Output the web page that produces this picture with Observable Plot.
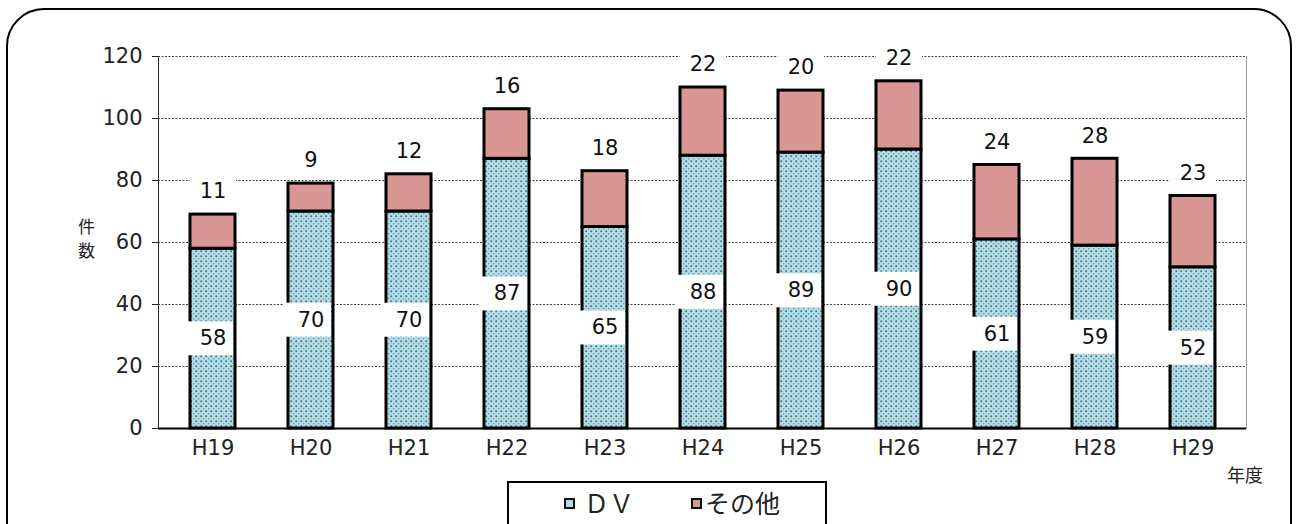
<!DOCTYPE html>
<html><head><meta charset="utf-8">
<script src="https://cdn.jsdelivr.net/npm/d3@7"></script>
<script src="https://cdn.jsdelivr.net/npm/@observablehq/plot@0.6"></script>
<style>
html,body{margin:0;padding:0;background:#fff;width:1300px;height:524px;overflow:hidden;font-family:"DejaVu Sans","Noto Sans CJK JP",sans-serif;}
#wrap{position:relative;width:1300px;height:524px;}
#border{position:absolute;left:6px;top:8px;width:1282px;height:600px;border:2px solid #000;border-radius:38px;}
#chart{position:absolute;left:0;top:0;}
.lab{position:absolute;color:#222;font-family:"Noto Sans CJK JP","DejaVu Sans",sans-serif;line-height:1;}
#legend{position:absolute;left:507px;top:481px;width:316px;height:80px;border:2px solid #000;background:#fff;}
.sw{position:absolute;width:7px;height:7px;border:2px solid #111;}
</style></head>
<body><div id="wrap"><div id="border"></div><div id="chart"></div>
<div class="lab" style="left:78px;top:217px;font-size:17px;">件</div>
<div class="lab" style="left:78px;top:241px;font-size:17px;">数</div>
<div class="lab" style="left:1227px;top:465px;font-size:18px;">年度</div>
<div id="legend">
  <div class="sw" style="left:55px;top:15px;background:#b4dce6;"></div>
  <div class="lab" style="left:75px;top:7px;font-size:25px;">ＤＶ</div>
  <div class="sw" style="left:182px;top:15px;background:#d99694;"></div>
  <div class="lab" style="left:196px;top:7px;font-size:25px;">その他</div>
</div>
</div>
<script>
const years = ["H19","H20","H21","H22","H23","H24","H25","H26","H27","H28","H29"];
const dv    = [58,70,70,87,65,88,89,90,61,59,52];
const other = [11,9,12,16,18,22,20,22,24,28,23];
const yTicks = [0,20,40,60,80,100,120];

const rows = years.map((y,i)=>({year:y, dv:dv[i], other:other[i], total:dv[i]+other[i]}));

const chart = Plot.plot({
  width:1300, height:524,
  marginLeft:158, marginRight:54, marginTop:56, marginBottom:96,
  style:{fontFamily:'"DejaVu Sans","Noto Sans CJK JP",sans-serif', fontSize:"21px", color:"#222", background:"transparent"},
  x:{domain:years, paddingInner:0.545, paddingOuter:0.27, label:null, tickSize:0, tickPadding:12},
  y:{domain:[0,120], ticks:yTicks, label:null, tickSize:6, tickPadding:10, line:true},
  marks:[
    Plot.ruleY(yTicks.filter(d=>d>0), {stroke:"#444", strokeWidth:1, strokeDasharray:"2,1.5"}),
    Plot.frame({anchor:"right", stroke:"#999", strokeWidth:1}),
    Plot.barY(rows, {x:"year", y1:0, y2:"dv", fill:"url(#dvpat)", stroke:"#000", strokeWidth:3}),
    Plot.barY(rows, {x:"year", y1:"dv", y2:"total", fill:"#d99694", stroke:"#000", strokeWidth:3}),
    Plot.ruleY([0], {stroke:"#000", strokeWidth:2}),
    Plot.text(rows, {x:"year", y:d=>d.dv/2, text:"dv", fontSize:21, fill:"#111"}),
    Plot.text(rows, {x:"year", y:"total", dy:-23, text:"other", fontSize:21, fill:"#111"})
  ]
});
document.getElementById("chart").appendChild(chart);

const svg = d3.select(chart);
const defs = svg.insert("defs", ":first-child");
const pat = defs.append("pattern").attr("id","dvpat").attr("patternUnits","userSpaceOnUse").attr("width",5).attr("height",5);
pat.append("rect").attr("width",5).attr("height",5).attr("fill","#b4dce6");
pat.append("circle").attr("cx",1.2).attr("cy",1.2).attr("r",1).attr("fill","#3f7686");
pat.append("circle").attr("cx",3.7).attr("cy",3.7).attr("r",0.8).attr("fill","#6496a4");

function boxes(group, left, right, h){
  d3.select(group).selectAll("text").each(function(){
    const el = this;
    const b = el.getBBox();
    const cx = b.x + b.width/2, cy = b.y + b.height/2;
    const r = d3.select(el.parentNode).insert("rect", () => el)
      .attr("x", cx - left).attr("y", cy - h/2).attr("width", left + right).attr("height", h).attr("fill","#fff");
    const t = el.getAttribute("transform");
    if (t) r.attr("transform", t);
  });
}
const textGroups = svg.selectAll('g[aria-label="text"]').nodes();
boxes(textGroups[textGroups.length-2], 27, 20, 34);
boxes(textGroups[textGroups.length-1], 23, 23, 26);
</script></body></html>
